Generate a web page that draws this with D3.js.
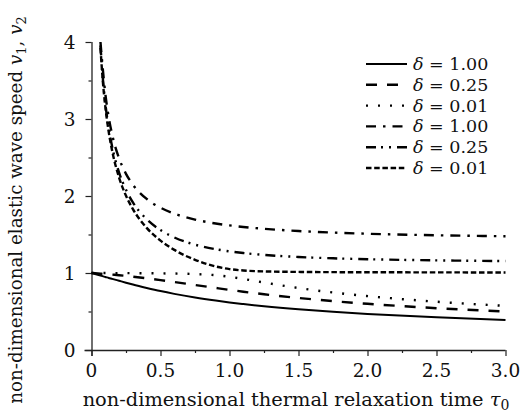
<!DOCTYPE html>
<html>
<head>
<meta charset="utf-8">
<script src="https://cdn.jsdelivr.net/npm/d3@7"></script>
<style>
  body { margin: 0; background: #fff; }
</style>
</head>
<body>
<svg id="chart"></svg>
<script>
// tau0 values where curves were read
var tau = [0, 0.065, 0.08, 0.1, 0.125, 0.15, 0.2, 0.25, 0.3, 0.4, 0.5, 0.6, 0.75, 0.9, 1.0, 1.1, 1.25, 1.5, 1.75, 2.0, 2.5, 3.0];

// v1 (slow wave)
var v1_d100 = [1.00, 0.967, 0.959, 0.949, 0.936, 0.924, 0.899, 0.874, 0.850, 0.806, 0.765, 0.729, 0.682, 0.642, 0.618, 0.597, 0.568, 0.528, 0.496, 0.468, 0.424, 0.391];
var v1_d025 = [1.00, 0.991, 0.989, 0.986, 0.983, 0.979, 0.971, 0.962, 0.952, 0.931, 0.908, 0.883, 0.844, 0.806, 0.781, 0.757, 0.724, 0.676, 0.635, 0.600, 0.543, 0.500];
var v1_d001 = [1.00, 1.00, 1.00, 1.00, 0.999, 0.999, 0.999, 0.998, 0.998, 0.997, 0.995, 0.993, 0.986, 0.971, 0.951, 0.923, 0.876, 0.805, 0.747, 0.700, 0.627, 0.573];
// v2 (fast wave), nothing at tau0 = 0
var v2_d100 = [null, 4.00, 3.685, 3.332, 3.020, 2.795, 2.488, 2.288, 2.147, 1.962, 1.848, 1.771, 1.694, 1.643, 1.618, 1.598, 1.574, 1.545, 1.525, 1.510, 1.490, 1.477];
var v2_d025 = [null, 3.956, 3.574, 3.206, 2.878, 2.638, 2.304, 2.080, 1.917, 1.698, 1.557, 1.462, 1.368, 1.309, 1.281, 1.259, 1.235, 1.208, 1.191, 1.179, 1.164, 1.155];
var v2_d001 = [null, 3.924, 3.537, 3.164, 2.830, 2.584, 2.239, 2.003, 1.830, 1.586, 1.421, 1.300, 1.171, 1.085, 1.051, 1.033, 1.021, 1.014, 1.011, 1.010, 1.008, 1.007];

var legendLabels = ["1.00", "0.25", "0.01", "1.00", "0.25", "0.01"];
var xTicks = [0, 0.5, 1.0, 1.5, 2.0, 2.5, 3.0];
var xTickLabels = ["0", "0.5", "1.0", "1.5", "2.0", "2.5", "3.0"];
var yTicks = [0, 1, 2, 3, 4];

var series = [v1_d100, v1_d025, v1_d001, v2_d100, v2_d025, v2_d001];
// dash styles: solid, dashed, dotted, dash-dot, dash-dot-dot, short dashes
var dashes = [null, "11,10", "2,10", "10,7,2.5,7", "10,5,2,6,2,6", "5.5,2.7"];

var width = 522, height = 416;
var margin = {left: 91.5, right: 16.5, top: 42, bottom: 66};
var serif = "'DejaVu Serif', 'Liberation Serif', serif";

var svg = d3.select("#chart")
  .attr("width", width)
  .attr("height", height)
  .attr("font-family", serif);

var x = d3.scaleLinear().domain([0, 3]).range([margin.left, width - margin.right]);
var y = d3.scaleLinear().domain([0, 4]).range([height - margin.bottom, margin.top]);

// axes
var xAxis = svg.append("g")
  .attr("transform", "translate(0," + y(0) + ")")
  .call(d3.axisBottom(x).tickValues(d3.range(0, 3.01, 0.25)).tickSize(4).tickFormat(""));
xAxis.selectAll(".tick line").attr("y2", function(d, i) { return i % 2 == 0 ? 6 : 3; });

var yAxis = svg.append("g")
  .attr("transform", "translate(" + x(0) + ",0)")
  .call(d3.axisLeft(y).tickValues(d3.range(0, 4.01, 0.5)).tickSize(4).tickFormat(""));
yAxis.selectAll(".tick line").attr("x2", function(d, i) { return i % 2 == 0 ? -6 : -3; });

svg.selectAll(".domain").attr("stroke", "#222").attr("stroke-width", 1.3);
xAxis.select(".domain").attr("d", "M" + (x(0) - 7) + ",0.5H" + x(3));
yAxis.select(".domain").attr("d", "M0.5," + (y(0) + 6) + "V" + y(4));
svg.selectAll(".tick line").attr("stroke", "#222").attr("stroke-width", 1.2);

svg.selectAll(".xlab")
  .data(xTicks)
  .enter()
  .append("text")
  .attr("font-family", serif)
  .attr("x", function(d) { return x(d); })
  .attr("y", 377)
  .attr("text-anchor", "middle")
  .attr("font-size", 18.5)
  .attr("fill", "#111")
  .text(function(d, i) { return xTickLabels[i]; });

svg.selectAll(".ylab")
  .data(yTicks)
  .enter()
  .append("text")
  .attr("font-family", serif)
  .attr("x", x(0) - 16)
  .attr("y", function(d) { return y(d) + 7; })
  .attr("text-anchor", "end")
  .attr("font-size", 18.5)
  .attr("fill", "#111")
  .text(function(d) { return d; });

// titles
var xt = svg.append("text")
  .attr("font-family", serif)
  .attr("x", 296)
  .attr("y", 406)
  .attr("text-anchor", "middle")
  .attr("font-size", 19.4)
  .attr("fill", "#111");
xt.append("tspan").text("non-dimensional thermal relaxation time ");
xt.append("tspan").attr("font-style", "italic").text("τ");
xt.append("tspan").attr("font-size", 14).attr("dy", 4).text("0");

var yt = svg.append("text")
  .attr("font-family", serif)
  .attr("transform", "translate(22,210) rotate(-90)")
  .attr("text-anchor", "middle")
  .attr("font-size", 18.3)
  .attr("fill", "#111");
yt.append("tspan").text("non-dimensional elastic wave speed ");
yt.append("tspan").attr("font-style", "italic").text("v");
yt.append("tspan").attr("font-size", 13).attr("dy", 4).text("1");
yt.append("tspan").attr("dy", -4).text(", ");
yt.append("tspan").attr("font-style", "italic").text("v");
yt.append("tspan").attr("font-size", 13).attr("dy", 4).text("2");

// curves
var line = d3.line()
  .defined(function(d) { return d[1] != null; })
  .x(function(d) { return x(d[0]); })
  .y(function(d) { return y(d[1]); })
  .curve(d3.curveMonotoneX);

svg.selectAll(".curve")
  .data(series)
  .enter()
  .append("path")
  .attr("fill", "none")
  .attr("stroke", "#000")
  .attr("stroke-width", function(d, i) { return i == 0 ? 2 : 2.4; })
  .attr("stroke-dasharray", function(d, i) { return dashes[i]; })
  .attr("d", function(d) {
    return line(tau.map(function(t, j) { return [t, d[j]]; }));
  });

// legend
var legend = svg.selectAll(".leg")
  .data(legendLabels)
  .enter()
  .append("g")
  .attr("transform", function(d, i) { return "translate(366," + (64 + i * 20.8) + ")"; });

legend.append("line")
  .attr("x1", 0).attr("x2", 41)
  .attr("stroke", "#000")
  .attr("stroke-width", function(d, i) { return i == 0 ? 2 : 2.4; })
  .attr("stroke-dasharray", function(d, i) { return dashes[i]; });

var lt = legend.append("text")
  .attr("font-family", serif)
  .attr("x", 47)
  .attr("y", 6)
  .attr("font-size", 17.5)
  .attr("fill", "#111");
lt.append("tspan").attr("font-style", "italic").text("δ");
lt.append("tspan").text(function(d) { return " = " + d; });
</script>
</body>
</html>
